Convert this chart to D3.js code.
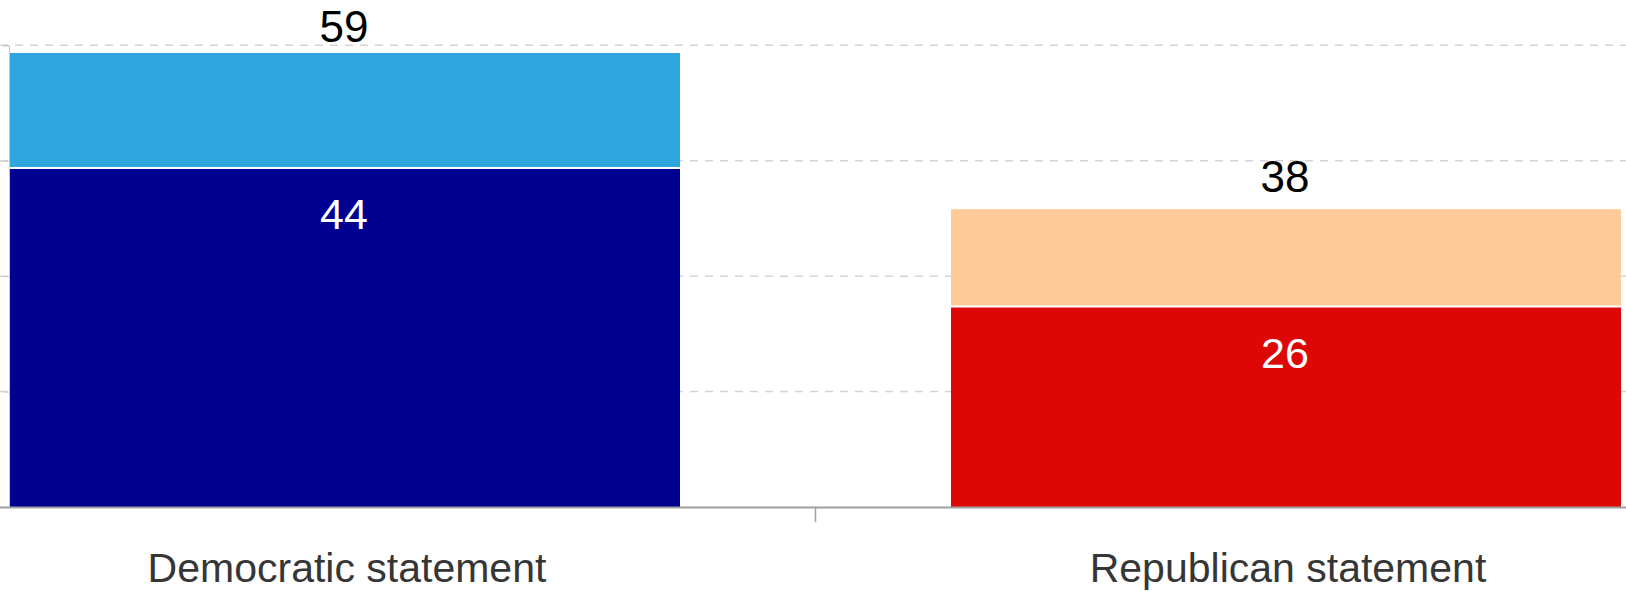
<!DOCTYPE html>
<html>
<head>
<meta charset="utf-8">
<script src="https://cdn.jsdelivr.net/npm/d3@7"></script>
<style>
  html, body { margin: 0; padding: 0; background: #fff; }
  svg { display: block; }
  text { font-family: "Liberation Sans", Arial, sans-serif; }
</style>
</head>
<body>
<svg id="chart" width="1626" height="591"></svg>
<script>
// ---- data ----
const categories = ["Democratic statement", "Republican statement"];
const baseValues = [44, 26];       // strong (dark) segment
const topValues = [15, 12.7];      // lighter segment stacked on top
const totalLabels = ["59", "38"];
const baseLabels = ["44", "26"];
const baseColors = ["#000091", "#dd0806"];
const topColors = ["#2ea6dd", "#fecb98"];
const yTicks = [0, 15, 30, 45, 60];

// ---- layout ----
const W = 1626, H = 591;
const x0 = 9, x1 = 1621, yBase = 507, yTop = 45.3;

const svg = d3.select("#chart");

const x = d3.scaleBand().domain(categories).range([x0 + 1, x1]).paddingInner(0.288).paddingOuter(0);
const y = d3.scaleLinear().domain([0, 60]).range([yBase, yTop]);

// gridlines
svg.append("g").selectAll("line").data(yTicks.filter(d => d > 0)).join("line")
  .attr("x1", 0).attr("x2", W)
  .attr("y1", d => y(d)).attr("y2", d => y(d))
  .attr("stroke", "#d4d4d4").attr("stroke-width", 1.5)
  .attr("stroke-dasharray", "8,7");

// y axis (labels fall outside the visible area)
const yAxis = svg.append("g").attr("transform", `translate(${x0},0)`)
  .call(d3.axisLeft(y).tickValues(yTicks).tickSize(6).tickFormat(""));
yAxis.select(".domain").attr("stroke", "#c8c8c8");
yAxis.selectAll(".tick line").attr("stroke", "#c8c8c8");

// bars
const data = categories.map((c, i) => ({
  cat: c, base: baseValues[i], top: topValues[i],
  total: totalLabels[i], baseLabel: baseLabels[i],
  cBase: baseColors[i], cTop: topColors[i]
}));

const g = svg.append("g");
g.selectAll("rect.top").data(data).join("rect").attr("class", "top")
  .attr("x", d => x(d.cat)).attr("width", x.bandwidth())
  .attr("y", d => y(d.base + d.top)).attr("height", d => y(d.base) - y(d.base + d.top))
  .attr("fill", d => d.cTop);
g.selectAll("rect.base").data(data).join("rect").attr("class", "base")
  .attr("x", d => x(d.cat)).attr("width", x.bandwidth())
  .attr("y", d => y(d.base)).attr("height", d => y(0) - y(d.base))
  .attr("fill", d => d.cBase);
// white separator between segments
g.selectAll("line.sep").data(data).join("line").attr("class", "sep")
  .attr("x1", d => x(d.cat)).attr("x2", d => x(d.cat) + x.bandwidth())
  .attr("y1", d => y(d.base) - 0.5).attr("y2", d => y(d.base) - 0.5)
  .attr("stroke", "#fff").attr("stroke-width", 2);

// x axis
const xAxis = svg.append("g").attr("transform", `translate(0,${yBase})`);
xAxis.append("line").attr("x1", 0).attr("x2", W).attr("y1", 0.5).attr("y2", 0.5)
  .attr("stroke", "#a0a0a0").attr("stroke-width", 2);
const mid = (x(categories[0]) + x.bandwidth() + x(categories[1])) / 2;
xAxis.append("line").attr("x1", mid).attr("x2", mid).attr("y1", 0).attr("y2", 15)
  .attr("stroke", "#a0a0a0").attr("stroke-width", 1.5);

svg.append("g").selectAll("text").data(categories).join("text")
  .attr("x", d => x(d) + x.bandwidth() / 2 + 2).attr("y", 582)
  .attr("text-anchor", "middle").attr("font-size", 41).attr("fill", "#363636")
  .text(d => d);

// total labels
svg.append("g").selectAll("text").data(data).join("text")
  .attr("x", d => x(d.cat) + x.bandwidth() / 2 - 1)
  .attr("y", d => Math.max(y(d.base + d.top) - 17, 42))
  .attr("text-anchor", "middle").attr("font-size", 44).attr("fill", "#000")
  .text(d => d.total);

// inner labels
svg.append("g").selectAll("text").data(data).join("text")
  .attr("x", d => x(d.cat) + x.bandwidth() / 2 - 1)
  .attr("y", d => y(d.base) + 61)
  .attr("text-anchor", "middle").attr("font-size", 43).attr("fill", "#fff")
  .text(d => d.baseLabel);
</script>
</body>
</html>
